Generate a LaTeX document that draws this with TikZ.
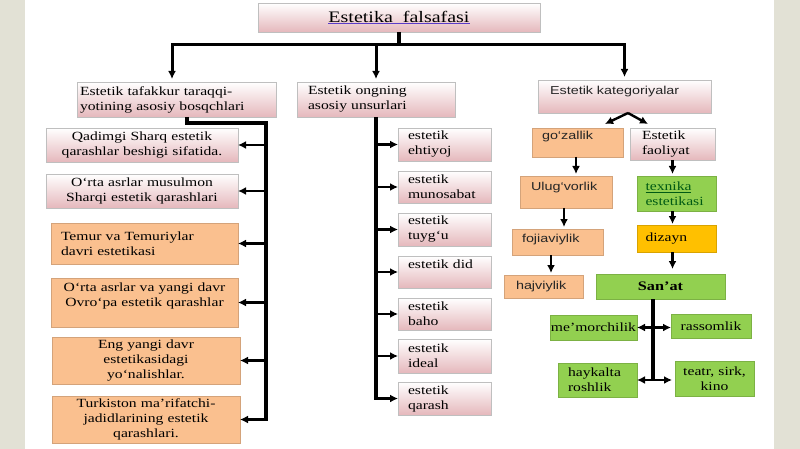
\documentclass[tikz,border=0pt]{standalone}
\usepackage{fontspec}
\setmainfont[FakeStretch=1.25]{Liberation Serif}
\newfontfamily\katfont[FakeStretch=1.25]{Liberation Sans}
\usetikzlibrary{arrows.meta,shadows}
\definecolor{pinkbot}{RGB}{229,184,188}
\definecolor{peach}{RGB}{250,192,143}
\definecolor{leaf}{RGB}{146,208,80}
\definecolor{gold}{RGB}{255,192,0}
\definecolor{strip}{RGB}{226,225,213}
\definecolor{leafdark}{RGB}{0,90,20}
\definecolor{ulblue}{RGB}{90,60,200}
\tikzset{
	box/.style={outer sep=0pt, inner ysep=2pt, line width=0.5pt, align=left, font=\fontsize{12.5}{15}\selectfont, drop shadow={shadow xshift=1.2pt, shadow yshift=-1.2pt, opacity=0.25}},
	pinkbox/.style={box, draw=black!25, top color=white, bottom color=pinkbot},
	peachbox/.style={box, draw=peach!85!black, fill=peach},
	leafbox/.style={box, draw=leaf!85!black, fill=leaf},
	goldbox/.style={box, draw=gold!85!black, fill=gold},
	sans/.style={font=\katfont\fontsize{11.5}{14}\selectfont, text=black!85},
	toptext/.style 2 args={text height=#1, text depth=#2},
	bus/.style={line width=3.5pt},
	conn/.style={line width=2.4pt, -{Latex[length=8pt, width=8pt]}},
	both/.style={line width=2.4pt, {Latex[length=8pt, width=8pt]}-{Latex[length=8pt, width=8pt]}}
}

\begin{document}
\begin{tikzpicture}[x=1pt, y=-1pt]
		%%%%% PAGE %%%%%
		\useasboundingbox (0, 0) rectangle (800, 449);
		\fill[white] (0, 0) rectangle (800, 449);
		\fill[strip] (0, 0) rectangle (25, 449);
		\fill[strip] (774, 0) rectangle (800, 449);
		
		%%%%% TOP %%%%%
		\node[pinkbox, minimum width=282pt, minimum height=29pt, font=\fontsize{16}{18}\selectfont] (T) at (399, 17.5) {{\color{ulblue}\underline{\color{black}Estetika\ \ falsafasi}}};
		\node[pinkbox, text width=193pt, inner xsep=3pt, minimum height=35pt] (A) at (176.5, 99.5) {Estetik tafakkur taraqqi-\\yotining asosiy bosqchlari};
		\node[pinkbox, text width=136pt, inner xsep=11pt, minimum height=35pt] (B) at (376, 99.5) {Estetik ongning\\asosiy unsurlari};
		\node[pinkbox, sans, text width=149pt, inner xsep=12pt, toptext={13pt}{16pt}] (C) at (624.5, 96.5) {Estetik kategoriyalar};
		
		\coordinate (top) at (399, 45);
		\draw[bus] (T.south) -- ([yshift=-1.5pt]top);
		\draw[conn, line width=3pt, shorten >=3pt] (top) -| ([xshift=-4.5pt]A.north);
		\draw[conn, line width=3pt, shorten >=3pt] (top) -| (C.north);
		\draw[conn, line width=3pt, shorten >=3pt] (B.north |- top) -- (B.north);
		
		%%%%% LEFT %%%%%
		\node[pinkbox, align=center, text width=190pt, inner xsep=1pt, minimum height=34pt] (L1) at (142, 145) {Qadimgi Sharq estetik\\qarashlar beshigi sifatida.};
		\node[pinkbox, align=center, text width=190pt, inner xsep=1pt, minimum height=34pt] (L2) at (142, 191) {O‘rta asrlar musulmon\\Sharqi estetik qarashlari};
		\node[peachbox, text width=167pt, inner xsep=10pt, minimum height=41pt] (L3) at (144.5, 243.5) {Temur va Temuriylar\\davri estetikasi};
		\node[peachbox, align=center, text width=185pt, inner xsep=1pt, toptext={11pt}{34pt}] (L4) at (144.5, 302.5) {O‘rta asrlar va yangi davr\\Ovro‘pa estetik qarashlar};
		\node[peachbox, align=center, text width=186pt, inner xsep=1pt, minimum height=47pt] (L5) at (146, 360.5) {Eng yangi davr\\estetikasidagi\\yo‘nalishlar.};
		\node[peachbox, align=center, text width=186pt, inner xsep=1pt, minimum height=47pt] (L6) at (146, 419.5) {Turkiston ma’rifatchi-\\jadidlarining estetik\\qarashlari.};
		
		\coordinate (lbus) at (266, 123);
		\draw[bus] ([xshift=10.5pt]A.south) |- (lbus) -- ([yshift=-1pt]lbus |- L6.east);
		\foreach \n in {L1,L2,L3,L4,L5,L6}
			\draw[conn] (lbus |- \n.east) -- (\n.east);
		
		%%%%% MIDDLE %%%%%
		\node[pinkbox, text width=73pt, inner xsep=10pt, minimum height=33pt] (M1) at (444.5, 144.5) {estetik\\ehtiyoj};
		\node[pinkbox, text width=73pt, inner xsep=10pt, minimum height=32pt] (M2) at (444.5, 187) {estetik\\munosabat};
		\node[pinkbox, text width=73pt, inner xsep=10pt, minimum height=33pt] (M3) at (444.5, 229.5) {estetik\\tuyg‘u};
		\node[pinkbox, text width=73pt, inner xsep=10pt, toptext={10.5pt}{17.5pt}] (M4) at (444.5, 272) {estetik did};
		\node[pinkbox, text width=73pt, inner xsep=10pt, minimum height=32pt] (M5) at (444.5, 314) {estetik\\baho};
		\node[pinkbox, text width=73pt, inner xsep=10pt, minimum height=34pt] (M6) at (444.5, 356) {estetik\\ideal};
		\node[pinkbox, text width=73pt, inner xsep=10pt, minimum height=33pt] (M7) at (444.5, 398.5) {estetik\\qarash};
		
		\draw[bus] (B.south) -- ([yshift=-1pt]B.south |- M7.west);
		\foreach \m in {M1,M2,M3,M4,M5,M6,M7}
			\draw[conn] (B.south |- \m.west) -- (\m.west);
		
		%%%%% RIGHT %%%%%
		\node[peachbox, sans, text width=71pt, inner xsep=10pt, toptext={10pt}{15pt}] (G) at (577.5, 142.5) {go‘zallik};
		\node[pinkbox, text width=61pt, inner xsep=12pt, minimum height=32pt] (F) at (672.5, 144) {Estetik\\faoliyat};
		\node[peachbox, sans, text width=70pt, inner xsep=11pt, toptext={12pt}{16pt}] (U) at (566, 192) {Ulug‘vorlik};
		\node[peachbox, sans, text width=71pt, inner xsep=10pt, toptext={11pt}{11pt}] (Fo) at (557.5, 242) {fojiaviylik};
		\node[peachbox, sans, text width=55pt, inner xsep=12pt, minimum height=23pt] (H) at (543.5, 286.5) {hajviylik};
		\node[leafbox, text=leafdark, text width=62pt, inner xsep=8.5pt, minimum height=35pt] (TX) at (676.5, 193.5) {\underline{texnika}\\estetikasi};
		\node[goldbox, text width=62pt, inner xsep=8.5pt, minimum height=27pt] (D) at (676.5, 238.5) {dizayn};
		\node[leafbox, minimum width=129pt, minimum height=25pt, font=\bfseries\fontsize{13}{15}\selectfont] (S) at (660.5, 286.5) {San’at};
		\node[leafbox, minimum width=87pt, inner xsep=0pt, minimum height=25pt] (Me) at (593.5, 327.5) {me’morchilik};
		\node[leafbox, minimum width=80pt, minimum height=24pt] (R) at (711, 326) {rassomlik};
		\node[leafbox, text width=59pt, inner xsep=10pt, minimum height=34pt] (Hk) at (597.5, 380) {haykalta\\roshlik};
		\node[leafbox, align=center, text width=77pt, inner xsep=1pt, minimum height=35pt] (Te) at (714.5, 378.5) {teatr, sirk,\\kino};
		
		\draw[conn] ([xshift=3.5pt]C.south) -- ([xshift=27.5pt, yshift=4pt]G.north);
		\draw[conn] ([xshift=3.5pt]C.south) -- ([xshift=-24.5pt, yshift=4pt]F.north);
		\draw[conn, shorten >=2pt] ([xshift=-1.5pt]G.south) -- ([xshift=-1.5pt]G.south |- U.north);
		\draw[conn, shorten >=2pt] ([xshift=-2pt]U.south) -- ([xshift=-2pt]U.south |- Fo.north);
		\draw[conn, shorten >=2pt] ([xshift=-6.5pt]Fo.south) -- ([xshift=-6.5pt]Fo.south |- H.north);
		\draw[conn, shorten >=2pt] (F.south) -- (F.south |- TX.north);
		\draw[conn, shorten >=1pt] (TX.south -| F.south) -- (D.north -| F.south);
		\draw[conn, shorten >=5pt] (D.south -| F.south) -- (S.north -| F.south);
		
		\draw[bus] ([xshift=-7.5pt]S.south) -- ([xshift=-7.5pt]S.south |- Hk.east);
		\draw[both] (Me.east) -- (Me.east -| R.west);
		\draw[both, shorten >=3pt] (Hk.east) -- (Hk.east -| Te.west);
		
		%%%%% END %%%%%
	\end{tikzpicture}
\end{document}
